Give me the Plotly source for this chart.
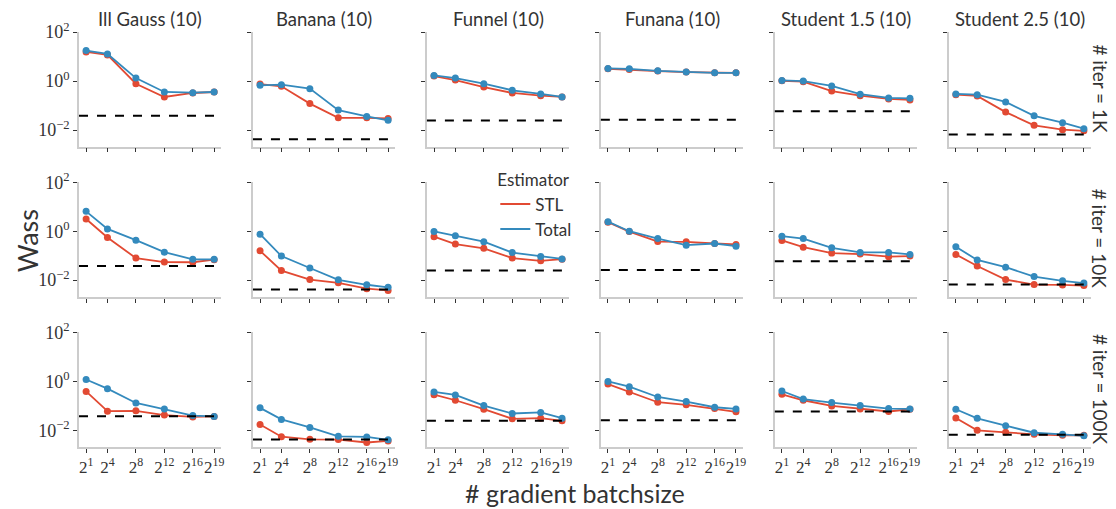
import plotly.graph_objects as go
from plotly.subplots import make_subplots

# x positions are log2 of the batchsize
batch_exp = [1, 4, 8, 12, 16, 19]
batch_labels = ["2<sup>1</sup>", "2<sup>4</sup>", "2<sup>8</sup>",
                "2<sup>12</sup>", "2<sup>16</sup>", "2<sup>19</sup>"]

tasks = ["Ill Gauss (10)", "Banana (10)", "Funnel (10)",
         "Funana (10)", "Student 1.5 (10)", "Student 2.5 (10)"]
iters = ["# iter = 1K", "# iter = 10K", "# iter = 100K"]

# dashed reference level per task
ref_level = [0.038, 0.0042, 0.0246, 0.026, 0.059, 0.0066]

stl_1k = [
    [15.5, 11.7, 0.78, 0.224, 0.326, 0.358],
    [0.755, 0.61, 0.12, 0.0316, 0.0316, 0.0296],
    [1.6, 1.1, 0.57, 0.326, 0.254, 0.224],
    [3.17, 2.97, 2.55, 2.32, 2.18, 2.18],
    [1.03, 0.94, 0.39, 0.254, 0.186, 0.17],
    [0.278, 0.246, 0.054, 0.0155, 0.0103, 0.0093],
]
total_1k = [
    [17.6, 12.8, 1.32, 0.358, 0.335, 0.358],
    [0.67, 0.71, 0.49, 0.065, 0.036, 0.025],
    [1.7, 1.32, 0.78, 0.42, 0.297, 0.224],
    [3.27, 3.17, 2.63, 2.32, 2.18, 2.18],
    [1.06, 1.0, 0.63, 0.29, 0.204, 0.198],
    [0.297, 0.278, 0.14, 0.038, 0.02, 0.0113],
]
stl_10k = [
    [3.15, 0.555, 0.080, 0.055, 0.054, 0.0686],
    [0.159, 0.0246, 0.0106, 0.0078, 0.0045, 0.0038],
    [0.6, 0.3, 0.2, 0.08, 0.062, 0.072],
    [2.32, 0.97, 0.38, 0.37, 0.316, 0.288],
    [0.42, 0.224, 0.128, 0.117, 0.091, 0.097],
    [0.113, 0.038, 0.0106, 0.0066, 0.0064, 0.006],
]
total_10k = [
    [6.5, 1.24, 0.43, 0.14, 0.071, 0.071],
    [0.755, 0.097, 0.0316, 0.0103, 0.0065, 0.0051],
    [0.98, 0.655, 0.375, 0.134, 0.092, 0.074],
    [2.47, 1.0, 0.5, 0.27, 0.316, 0.246],
    [0.63, 0.5, 0.21, 0.136, 0.136, 0.113],
    [0.23, 0.067, 0.034, 0.014, 0.0094, 0.0076],
]
stl_100k = [
    [0.39, 0.061, 0.063, 0.042, 0.0355, 0.037],
    [0.0175, 0.0055, 0.0043, 0.0042, 0.0032, 0.0037],
    [0.288, 0.17, 0.073, 0.0296, 0.0316, 0.0246],
    [0.78, 0.37, 0.141, 0.11, 0.078, 0.057],
    [0.297, 0.17, 0.1, 0.075, 0.059, 0.073],
    [0.032, 0.01, 0.0083, 0.0069, 0.0063, 0.0063],
]
total_100k = [
    [1.2, 0.505, 0.132, 0.075, 0.04, 0.037],
    [0.083, 0.028, 0.0132, 0.0057, 0.0054, 0.0041],
    [0.37, 0.28, 0.103, 0.049, 0.054, 0.0316],
    [1.0, 0.61, 0.231, 0.15, 0.088, 0.075],
    [0.405, 0.19, 0.136, 0.103, 0.078, 0.075],
    [0.073, 0.031, 0.0155, 0.008, 0.0069, 0.006],
]

stl_rows = [stl_1k, stl_10k, stl_100k]
total_rows = [total_1k, total_10k, total_100k]

RED = "#E24A33"
BLUE = "#348ABD"
TEXT = "#333333"
SERIF = "Liberation Serif"
SANS = "Lato"

# the page body has an 8px margin, so the figure is drawn 8px in from the corner
OFF = 8
W, H = 1116 - OFF, 509 - OFF
ml, mt = 78.7 - OFF, 30 - OFF
mr = W - (1090.7 - OFF)
mb = H - (447 - OFF)
PW, PH = W - ml - mr, H - mt - mb


def px2x(px):
    # screenshot pixel column -> plotly paper x
    return (px - OFF - ml) / PW


def px2y(py):
    return (H - mb - (py - OFF)) / PH


fig = make_subplots(rows=3, cols=6, shared_yaxes=True,
                    horizontal_spacing=31.7 / PW,
                    vertical_spacing=35.7 / PH)

for r in range(3):
    for c in range(6):
        fig.add_trace(go.Scatter(x=batch_exp, y=stl_rows[r][c], mode="lines+markers",
                                 line=dict(color=RED, width=1.8),
                                 marker=dict(color=RED, size=7), showlegend=False),
                      row=r + 1, col=c + 1)
        fig.add_trace(go.Scatter(x=batch_exp, y=total_rows[r][c], mode="lines+markers",
                                 line=dict(color=BLUE, width=1.8),
                                 marker=dict(color=BLUE, size=7), showlegend=False),
                      row=r + 1, col=c + 1)
        idx = r * 6 + c + 1
        xr = "x" if idx == 1 else f"x{idx}"
        yr = "y" if idx == 1 else f"y{idx}"
        fig.add_shape(type="line", xref=f"{xr} domain", yref=yr, x0=0, x1=1,
                      y0=ref_level[c], y1=ref_level[c],
                      line=dict(color="black", width=2, dash="dash"))

# legend-only entries (lines only, as in the reference)
fig.add_trace(go.Scatter(x=[None], y=[None], mode="lines", name="STL",
                         line=dict(color=RED, width=2)), row=2, col=3)
fig.add_trace(go.Scatter(x=[None], y=[None], mode="lines", name="Total",
                         line=dict(color=BLUE, width=2)), row=2, col=3)

fig.update_xaxes(range=[0, 20], tickvals=batch_exp, ticktext=batch_labels, tickangle=0,
                 showgrid=False, zeroline=False, showline=True, linecolor="#cccccc",
                 linewidth=1.5, ticks="outside", ticklen=4, tickcolor="#333333",
                 tickfont=dict(family=SERIF, size=17, color=TEXT))
for r in (1, 2):
    for c in range(1, 7):
        fig.update_xaxes(showticklabels=False, row=r, col=c)

fig.update_yaxes(type="log", range=[-2.68, 2.005], tickvals=[0.01, 1, 100],
                 ticktext=["10<sup>−2</sup>", "10<sup>0</sup>", "10<sup>2</sup>"],
                 showgrid=False, zeroline=False, showline=True, linecolor="#cccccc",
                 linewidth=1.5, ticks="outside", ticklen=4, tickcolor="#333333",
                 tickfont=dict(family=SERIF, size=18, color=TEXT))


def label(text, px, py, size, angle=0):
    return dict(text=text, x=px2x(px), y=px2y(py), xref="paper", yref="paper",
                xanchor="center", yanchor="middle", textangle=angle, showarrow=False,
                font=dict(family=SANS, size=size, color=TEXT))


annotations = [label(t, 150 + 174 * c, 17, 18.5) for c, t in enumerate(tasks)]
row_centers = [87, 238, 389]
annotations += [label(t, 1100, row_centers[r], 19, 90) for r, t in enumerate(iters)]
annotations.append(label("Wass", 28, 240, 27, -90))
annotations.append(label("# gradient batchsize", 575, 493, 25))

fig.update_layout(
    width=W, height=H,
    margin=dict(l=ml, r=mr, t=mt, b=mb),
    paper_bgcolor="white", plot_bgcolor="white",
    annotations=annotations,
    legend=dict(title=dict(text="Estimator", font=dict(family=SANS, size=17, color=TEXT)),
                x=px2x(495), y=px2y(163), xanchor="left", yanchor="top",
                bgcolor="rgba(0,0,0,0)", font=dict(family=SANS, size=17, color=TEXT),
                itemwidth=30, tracegroupgap=0),
)

fig.write_html("out.html")
